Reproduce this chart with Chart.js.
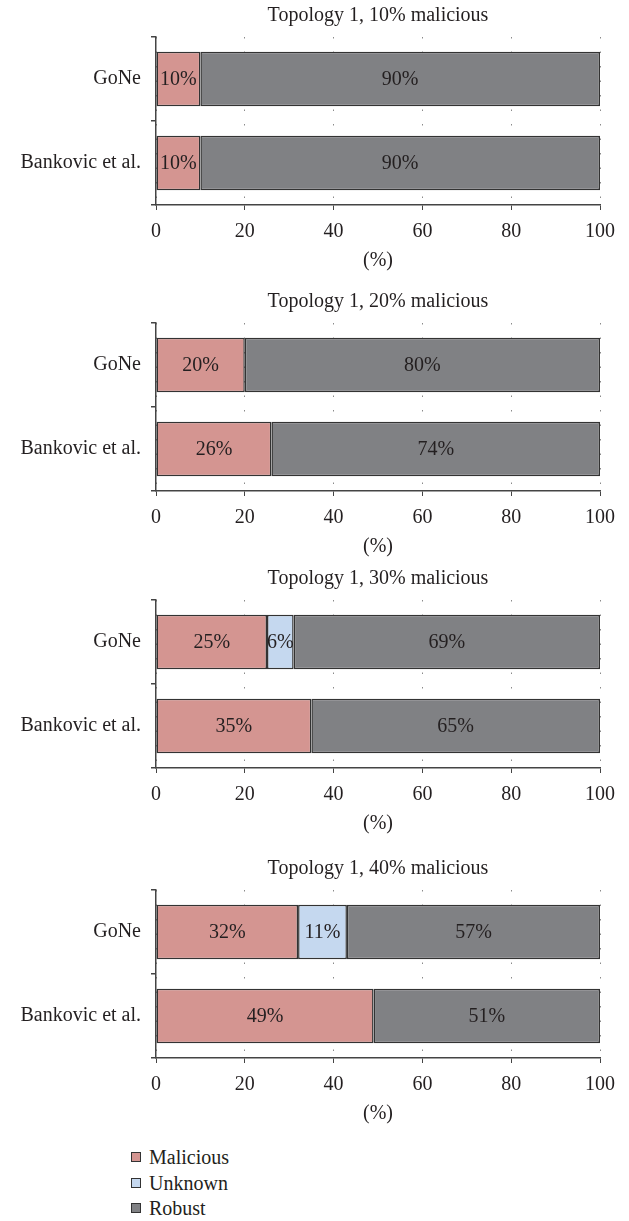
<!DOCTYPE html>
<html lang="en">
<head>
  <meta charset="UTF-8" />
  <title>Topology 1 – GoNe vs Bankovic et al.</title>
  <script src="https://cdn.jsdelivr.net/npm/chart.js"></script>
  <style>
    body {
      margin: 0;
      background: #fff;
      width: 629px;
      height: 1221px;
      position: relative;
      font-family: 'Liberation Serif', serif;
      color: #231f20;
    }

    .panel {
      position: absolute;
      left: 0;
      width: 629px;
      height: 275px;
    }

    .legend {
      position: absolute;
      left: 131px;
      top: 1145px;
      font-size: 20px;
      line-height: 25.5px;
    }

    .legend span.box {
      display: inline-block;
      width: 8px;
      height: 8px;
      border: 1.5px solid #333;
      margin-right: 8px;
      vertical-align: 2px;
    }
  </style>
</head>
<body>
  <div class="panel" style="top: 0px;"><canvas id="c0"></canvas></div>
  <div class="panel" style="top: 286px;"><canvas id="c1"></canvas></div>
  <div class="panel" style="top: 563px;"><canvas id="c2"></canvas></div>
  <div class="panel" style="top: 853px;"><canvas id="c3"></canvas></div>
  <div class="legend" id="legend"></div>

  <script>
    const categories = ['GoNe', 'Bankovic et al.'];
    const seriesNames = ['Malicious', 'Unknown', 'Robust'];
    const seriesColors = ['#d49591', '#c5d8ef', '#808184'];
    const titles = [
      'Topology 1, 10% malicious',
      'Topology 1, 20% malicious',
      'Topology 1, 30% malicious',
      'Topology 1, 40% malicious'
    ];
    // one row per panel: [GoNe, Bankovic et al.]
    const malicious = [[10, 10], [20, 26], [25, 35], [32, 49]];
    const unknown   = [[0, 0],   [0, 0],   [6, 0],   [11, 0]];
    const robust    = [[90, 90], [80, 74], [69, 65], [57, 51]];
    const xTicks = [0, 20, 40, 60, 80, 100];

    Chart.defaults.font.family = "'Liberation Serif', serif";
    Chart.defaults.font.size = 20;
    Chart.defaults.color = '#231f20';

    // value labels in the middle of each segment
    const segmentLabels = {
      id: 'segmentLabels',
      afterDatasetsDraw(chart) {
        const ctx = chart.ctx;
        ctx.save();
        ctx.font = "20px 'Liberation Serif', serif";
        ctx.fillStyle = '#231f20';
        ctx.textAlign = 'center';
        ctx.textBaseline = 'middle';
        chart.data.datasets.forEach((ds, i) => {
          chart.getDatasetMeta(i).data.forEach((bar, j) => {
            const v = ds.data[j];
            if (!v) return;
            ctx.fillText(v + '%', (bar.x + bar.base) / 2, bar.y + 1);
          });
        });
        ctx.restore();
      }
    };

    const series = [malicious, unknown, robust];

    titles.forEach((title, k) => {
      new Chart(document.getElementById('c' + k), {
        type: 'bar',
        data: {
          labels: categories,
          datasets: seriesNames.map((name, s) => ({
            label: name,
            data: series[s][k],
            backgroundColor: seriesColors[s],
            borderColor: '#333',
            borderWidth: 1.5,
            borderSkipped: false,
            barPercentage: 0.65,
            categoryPercentage: 1
          }))
        },
        options: {
          indexAxis: 'y',
          responsive: true,
          maintainAspectRatio: false,
          animation: false,
          layout: { padding: { left: 0, right: 29, top: 0, bottom: 0 } },
          plugins: {
            legend: { display: false },
            tooltip: { enabled: false },
            title: {
              display: true,
              text: title,
              fullSize: false,
              color: '#231f20',
              font: { size: 20, weight: 'normal' },
              padding: { top: 4, bottom: 9 }
            }
          },
          scales: {
            x: {
              stacked: true,
              min: 0,
              max: 100,
              afterBuildTicks: s => { s.ticks = xTicks.map(v => ({ value: v })); },
              afterFit: s => { s.height = 70; },
              ticks: { padding: 10, color: '#231f20' },
              grid: {
                color: '#8a8a8a',
                tickColor: '#444',
                tickLength: 5,
                tickBorderDash: [],
                lineWidth: 1
              },
              border: { display: true, color: '#444', width: 1.5, dash: [1.5, 13] },
              title: {
                display: true,
                text: '(%)',
                color: '#231f20',
                font: { size: 20 },
                padding: { top: 6, bottom: 2 }
              }
            },
            y: {
              stacked: true,
              afterFit: s => { s.width = 156; },
              ticks: { padding: 10, color: '#231f20' },
              grid: {
                offset: true,
                drawOnChartArea: false,
                tickLength: 5,
                color: '#444',
                lineWidth: 1.5
              },
              border: { display: true, color: '#444', width: 1.5 }
            }
          }
        },
        plugins: [segmentLabels]
      });
    });

    // legend, built from the series names and colours
    const legend = document.getElementById('legend');
    seriesNames.forEach((name, s) => {
      const row = document.createElement('div');
      row.innerHTML = '<span class="box" style="background:' + seriesColors[s] + '"></span>' + name;
      legend.appendChild(row);
    });
  </script>
</body>
</html>
